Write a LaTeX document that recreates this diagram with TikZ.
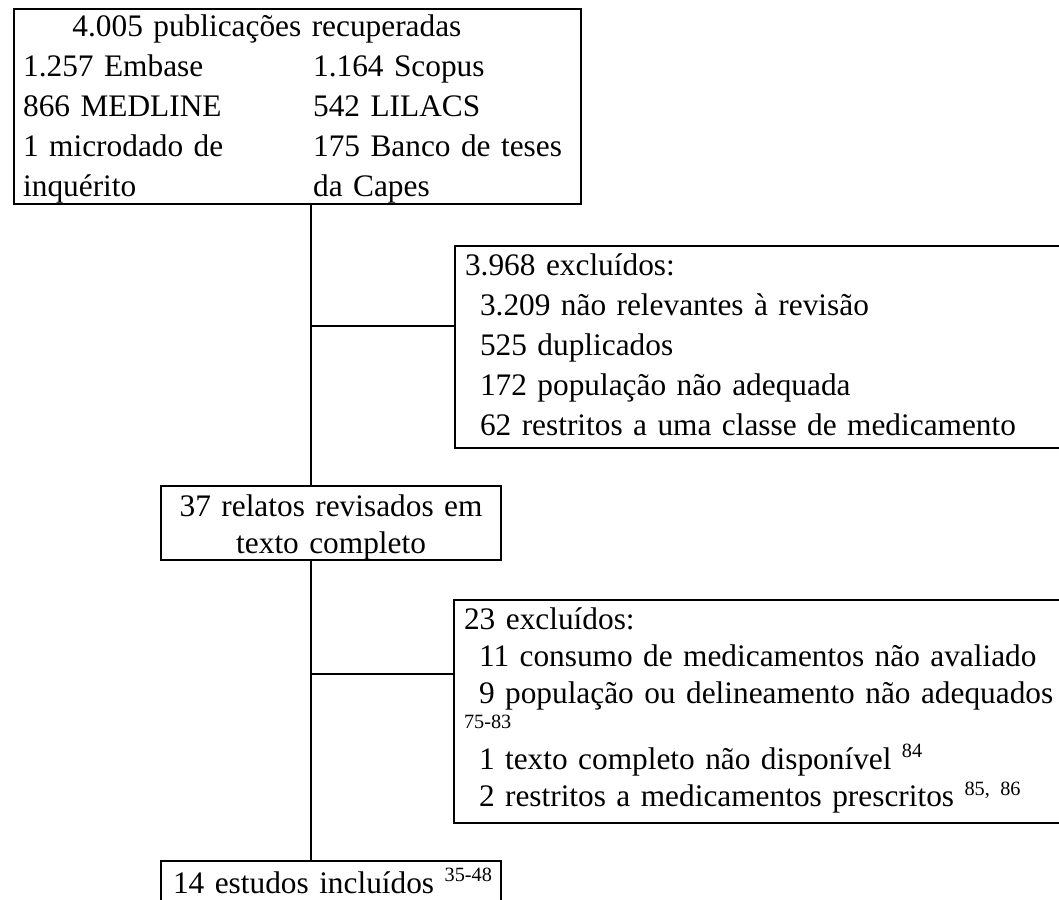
\documentclass[12pt,tikz,border=0pt]{standalone}
\usepackage{fontspec}
\setmainfont{Liberation Serif}
\usepackage{tikz}
\usetikzlibrary{calc, positioning}
\newcommand{\leftcol}[1]{\makebox[108.75pt][l]{#1}}
\newcommand{\headroom}[1]{\rule{0pt}{#1}}
\newcommand{\footroom}[1]{\rule[-#1]{0pt}{0pt}}
\newcommand{\refs}[1]{\raisebox{4.3pt}{\fontsize{7.6}{8}\selectfont #1}}

\begin{document}
\begin{tikzpicture}[x=0.375pt, y=-0.375pt,
    font=\fontsize{11.75}{15}\selectfont,
    box/.style={draw, line width=0.8pt, anchor=north west, inner ysep=0pt, align=left},
    tight/.style={font=\fontsize{11.75}{13.9}\selectfont},
    link/.style={line width=0.8pt}]
  \useasboundingbox (0,0) rectangle (1059,899);
  \clip (0,0) rectangle (1059,899);
  \node[box, inner xsep=3.4pt, text width=205.8pt] (busca) at (13,8)
    {\headroom{10.1pt}\hspace*{18.5pt}4.005 publicações recuperadas\\
     \leftcol{1.257 Embase}1.164 Scopus\\
     \leftcol{866 MEDLINE}542 LILACS\\
     \leftcol{1 microdado de}175 Banco de teses\\
     \leftcol{inquérito}da Capes\footroom{3pt}};
  \node[box, inner xsep=3.75pt, text width=234.75pt] (excl1) at (454,245)
    {\headroom{10.9pt}3.968 excluídos:\\
     \hspace*{5.6pt}3.209 não relevantes à revisão\\
     \hspace*{5.6pt}525 duplicados\\
     \hspace*{5.6pt}172 população não adequada\\
     \hspace*{5.6pt}62 restritos a uma classe de medicamento\footroom{4.9pt}};
  \node[box, tight, inner xsep=0pt, text width=127.5pt, align=center] (relatos) at (160,485)
    {\headroom{11.25pt}37 relatos revisados em\\ texto completo\footroom{2.6pt}};
  \node[box, tight, inner xsep=3.75pt, text width=235.1pt] (excl2) at (453,599)
    {\headroom{10.9pt}23 excluídos:\\
     \hspace*{5.6pt}11 consumo de medicamentos não avaliado\\
     \hspace*{5.6pt}9 população ou delineamento não adequados\\[-4.5pt]
     {\fontsize{7.6}{8}\selectfont 75-83}\\[1.5pt]
     \hspace*{5.6pt}1 texto completo não disponível \refs{84}\\
     \hspace*{5.6pt}2 restritos a medicamentos prescritos \refs{85, 86}\footroom{6.2pt}};
  \node[box, inner xsep=0pt, text width=127.5pt] (estudos) at (160,860)
    {\headroom{12pt}\hspace*{4.5pt}\makebox[0pt][l]{14 estudos incluídos \refs{35-48}}\footroom{20pt}};
  \coordinate (spine) at (311,0);
  \coordinate (j1) at (311,326);
  \coordinate (j2) at (311,674);
  \draw[link] (busca.south -| spine) -- (relatos.north -| spine);
  \draw[link] (j1) -- (j1 -| excl1.west);
  \draw[link] (relatos.south -| spine) -- (estudos.north -| spine);
  \draw[link] (j2) -- (j2 -| excl2.west);
\end{tikzpicture}
\end{document}
